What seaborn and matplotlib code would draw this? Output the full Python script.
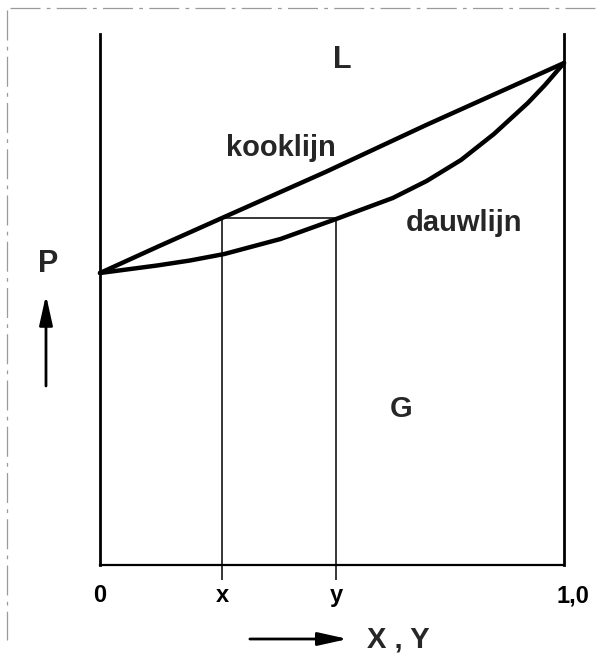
import matplotlib
matplotlib.use("Agg")
import matplotlib.pyplot as plt
import matplotlib.lines as mlines
import matplotlib.transforms as mtransforms
import numpy as np
import pandas as pd
import seaborn as sns

# Mole fraction of the more volatile component and vapour pressure (arbitrary units)
kook_x = [0.0, 0.123, 0.263, 0.486, 0.703, 1.0]
kook_p = [2.92, 3.18, 3.47, 3.93, 4.40, 5.02]

dauw_x = [0.0, 0.123, 0.194, 0.268, 0.389, 0.509, 0.631, 0.704, 0.778, 0.849, 0.922, 0.959, 1.0]
dauw_p = [2.92, 2.995, 3.045, 3.11, 3.26, 3.46, 3.67, 3.84, 4.05, 4.31, 4.62, 4.80, 5.02]

# Tie line at one pressure: liquid composition x, vapour composition y
tie_x = [0.263, 0.509]
tie_p = 3.465

tick_pos = [0.0, 0.263, 0.509, 1.0]
tick_labels = ["0", "x", "y", "1,0"]

sns.set_style("white")
plt.rcParams["font.family"] = ["Liberation Sans", "DejaVu Sans"]

fig = plt.figure(figsize=(6.14, 6.57), dpi=100)
ax = fig.add_axes([100 / 614, 92 / 657, 464 / 614, 531 / 657])

curves = pd.concat([
    pd.DataFrame({"X": kook_x, "P": kook_p, "lijn": "kooklijn"}),
    pd.DataFrame({"X": dauw_x, "P": dauw_p, "lijn": "dauwlijn"}),
])
sns.lineplot(data=curves, x="X", y="P", units="lijn", estimator=None, sort=False,
             color="black", lw=3.2, ax=ax, clip_on=False)
for ln in ax.get_lines():
    ln.set_solid_joinstyle("round")
    ln.set_solid_capstyle("round")

# tie line and the two composition verticals
ax.hlines(tie_p, tie_x[0], tie_x[1], color="black", lw=1.1, clip_on=False)
ax.vlines(tie_x, 0, tie_p, color="black", lw=1.1, clip_on=False)

ax.set_xlim(0, 1)
ax.set_ylim(0, 5.31)
ax.set_xlabel("")
ax.set_ylabel("")
ax.set_yticks([])

for side in ("left", "right", "bottom"):
    ax.spines[side].set_visible(True)
    ax.spines[side].set_color("black")
ax.spines["top"].set_visible(False)
ax.spines["left"].set_linewidth(2.0)
ax.spines["right"].set_linewidth(2.0)
ax.spines["bottom"].set_linewidth(1.6)

ax.set_xticks(tick_pos)
ax.set_xticklabels(tick_labels, fontsize=17, fontweight="bold")
ax.tick_params(axis="x", direction="out", length=11, width=1.1, pad=3,
               colors="black", bottom=True)
for i, t in enumerate(ax.xaxis.get_major_ticks()):
    if tick_labels[i] in ("0", "1,0"):
        t.tick1line.set_visible(False)
# the "1,0" label sits a little to the right of the axis end
shift = mtransforms.ScaledTranslation(9 / 100, 0, fig.dpi_scale_trans)
lbl = ax.get_xticklabels()[-1]
lbl.set_transform(lbl.get_transform() + shift)

# region and curve labels
ax.text(0.5216, 4.97, "L", fontsize=22, fontweight="bold", ha="center", va="baseline")
ax.text(0.6487, 1.48, "G", fontsize=21, fontweight="bold", ha="center", va="baseline")
ax.text(0.390, 4.09, "kooklijn", fontsize=21, fontweight="bold", ha="center", va="baseline")
ax.text(0.7845, 3.34, "dauwlijn", fontsize=21, fontweight="bold", ha="center", va="baseline")
ax.text(-0.112, 2.93, "P", fontsize=22, fontweight="bold", ha="center", va="baseline",
        clip_on=False)
ax.text(0.575, -0.83, "X , Y", fontsize=21, fontweight="bold", ha="left", va="baseline",
        clip_on=False)

# direction arrows for the axes
arrow = dict(arrowstyle="-|>,head_length=1.8,head_width=0.4", lw=2.0, color="black",
             shrinkA=0, shrinkB=0, mutation_scale=10)
ax.annotate("", xy=(0.534, -0.74), xytext=(0.323, -0.74), arrowprops=arrow,
            annotation_clip=False)
ax.annotate("", xy=(-0.1164, 2.70), xytext=(-0.1164, 1.79), arrowprops=arrow,
            annotation_clip=False)

# faint page border
border = dict(color="#9a9a9a", lw=0.9, ls=(0, (24, 5, 3, 5)), transform=fig.transFigure)
fig.add_artist(mlines.Line2D([10 / 614, 595 / 614], [1 - 8 / 657, 1 - 8 / 657], **border))
fig.add_artist(mlines.Line2D([7 / 614, 7 / 614], [1 - 10 / 657, 1 - 640 / 657], **border))

fig.savefig("out.png", dpi=100, facecolor="white")
